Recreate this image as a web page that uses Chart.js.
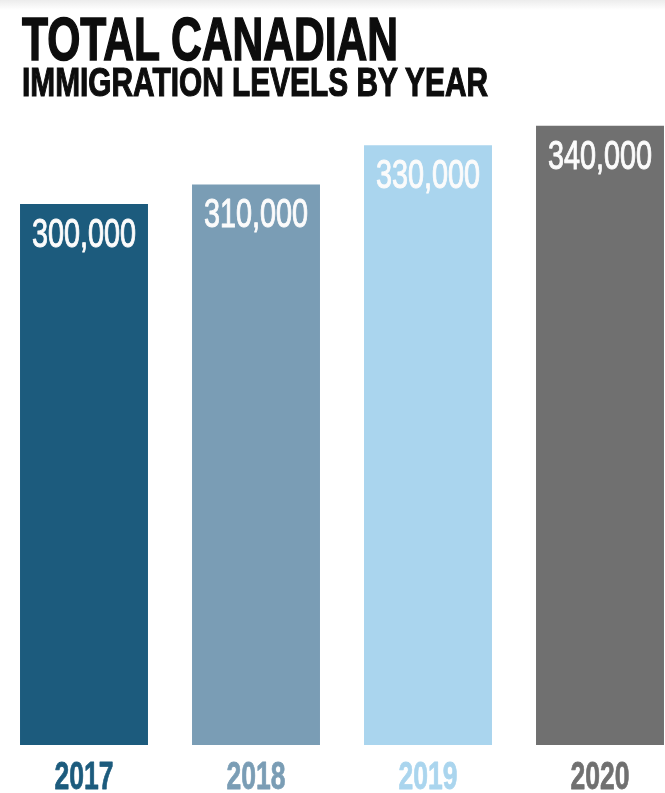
<!DOCTYPE html>
<html>
<head>
<meta charset="utf-8">
<script src="https://cdn.jsdelivr.net/npm/chart.js@4.4.1/dist/chart.umd.min.js"></script>
<style>
  html, body { margin: 0; padding: 0; background: #fff; overflow: hidden; }
  #wrap { position: relative; width: 665px; height: 793px; overflow: hidden; background: #fff; }
  #topband { position: absolute; left: 0; top: 0; width: 665px; height: 10px;
             background: linear-gradient(#ececec, #ffffff); }
  #cv { position: absolute; left: -2px; top: 0; }
  .t { position: absolute; left: 22px; white-space: nowrap; color: #0d0d0d;
       font-family: "Liberation Sans", Arial, sans-serif; font-weight: bold;
       transform-origin: 0 0; margin: 0; -webkit-text-stroke: 1.6px #0d0d0d; }
  #t1 { font-size: 61px; line-height: 61px; top: 9px; }
  #t2 { font-size: 41px; line-height: 41px; top: 62px; -webkit-text-stroke: 1.2px #0d0d0d; }
</style>
</head>
<body>
<div id="wrap">
  <div id="topband"></div>
  <canvas id="cv" width="688" height="793"></canvas>
  <div class="t" id="t1">TOTAL CANADIAN</div>
  <div class="t" id="t2">IMMIGRATION LEVELS BY YEAR</div>
</div>
<script>
// ---- data ----
const years = ["2017", "2018", "2019", "2020"];
const immigrants = [300000, 310000, 330000, 340000];
const valueLabels = ["300,000", "310,000", "330,000", "340,000"];
const barColors = ["#1c5b7d", "#7a9db5", "#aad5ee", "#707070"];

// squeeze the title to the condensed look of the original
function squeeze(id, target) {
  const el = document.getElementById(id);
  const w = el.getBoundingClientRect().width;
  el.style.transform = "scaleX(" + (target / w) + ")";
}
squeeze("t1", 376);
squeeze("t2", 466);

function condensedText(ctx, text, x, y, font, color, sx, stroke) {
  ctx.save();
  ctx.font = font;
  ctx.fillStyle = color;
  ctx.strokeStyle = color;
  ctx.lineWidth = stroke;
  ctx.lineJoin = "round";
  ctx.textAlign = "center";
  ctx.textBaseline = "alphabetic";
  ctx.translate(x, y);
  ctx.scale(sx, 1);
  ctx.fillText(text, 0, 0);
  if (stroke > 0) ctx.strokeText(text, 0, 0);
  ctx.restore();
}

const labelPlugin = {
  id: "labels",
  afterDatasetsDraw(chart) {
    const ctx = chart.ctx;
    const meta = chart.getDatasetMeta(0);
    const xs = chart.scales.x;
    meta.data.forEach((bar, i) => {
      condensedText(ctx, valueLabels[i], bar.x, bar.y + 43,
        "40px 'Liberation Sans', Arial, sans-serif", "#fbfbfb", 0.72, 1.0);
      condensedText(ctx, years[i], xs.getPixelForValue(i), chart.chartArea.bottom + 44,
        "bold 39px 'Liberation Sans', Arial, sans-serif", barColors[i], 0.68, 0.8);
    });
  }
};

new Chart(document.getElementById("cv"), {
  type: "bar",
  data: {
    labels: years,
    datasets: [{
      data: immigrants,
      backgroundColor: barColors,
      borderWidth: 0,
      barPercentage: 0.744,
      categoryPercentage: 1.0
    }]
  },
  options: {
    responsive: false,
    animation: false,
    layout: { padding: { top: 110, bottom: 48, left: 0, right: 0 } },
    plugins: { legend: { display: false }, tooltip: { enabled: false } },
    scales: {
      x: { display: false },
      y: { display: false, min: 24000, max: 348000 }
    }
  },
  plugins: [labelPlugin]
});
</script>
</body>
</html>
